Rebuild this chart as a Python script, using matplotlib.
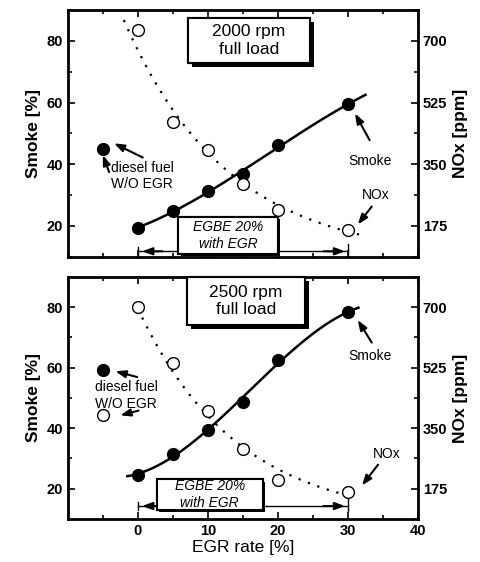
import numpy as np
import matplotlib
matplotlib.use('Agg')
import matplotlib.pyplot as plt
import matplotlib.patheffects as pe
from matplotlib.patches import Rectangle
from matplotlib.ticker import MultipleLocator

plt.rcParams['font.family'] = ['Liberation Sans', 'DejaVu Sans']
plt.rcParams['font.weight'] = 'bold'

# EGR rate [%]
egr = [0, 5, 10, 15, 20, 30]
diesel_x = -5

# 2000 rpm full load
smoke_2000 = [19.3, 25.0, 31.2, 36.9, 46.2, 59.4]
nox_2000 = [730, 470, 390, 295, 220, 165]
diesel_smoke_2000 = 44.9

# 2500 rpm full load
smoke_2500 = [24.5, 31.5, 39.4, 48.8, 62.5, 78.3]
nox_2500 = [701, 540, 400, 290, 200, 166]
diesel_smoke_2500 = 59.1
diesel_nox_2500 = 388

NOX_PER_SMOKE = 8.75  # right axis scale: 175 ppm <-> 20 %
NOX_FLOOR = 80        # asymptote used for the exponential NOx trend
LBL = 10


def shadow(off=3):
    return [pe.withSimplePatchShadow(offset=(off, -off), shadow_rgbFace='black', alpha=1.0),
            pe.Normal()]


def setup_axes(ax, show_xlabels):
    ax.set_xlim(-10, 40)
    ax.set_ylim(10, 90)
    ax.xaxis.set_minor_locator(MultipleLocator(5))
    ax.set_xticks([0, 10, 20, 30, 40])
    ax.set_yticks([20, 40, 60, 80])
    ax.yaxis.set_minor_locator(MultipleLocator(10))
    ax.tick_params(which='both', direction='in', top=True, labelsize=10.5, width=1.2)
    ax.tick_params(which='major', length=5)
    ax.tick_params(which='minor', length=3)
    ax.tick_params(axis='x', labelbottom=show_xlabels)
    for s in ax.spines.values():
        s.set_linewidth(2)
    ax.set_ylabel('Smoke [%]', fontsize=12.5, fontweight='bold')

    ax2 = ax.twinx()
    ax2.set_ylim(10 * NOX_PER_SMOKE, 90 * NOX_PER_SMOKE)
    ax2.set_yticks([175, 350, 525, 700])
    ax2.yaxis.set_minor_locator(MultipleLocator(87.5))
    ax2.tick_params(which='both', direction='in', labelsize=10.5, width=1.2)
    ax2.tick_params(which='major', length=5)
    ax2.tick_params(which='minor', length=3)
    ax2.set_ylabel('NOx [ppm]', fontsize=12.5, fontweight='bold')
    return ax2


def draw_panel(ax, smoke, nox, smoke_rng, nox_rng):
    x = np.array(egr, dtype=float)
    # trend lines fitted to the measured points
    cs = np.polyfit(x, smoke, 3)
    xs = np.linspace(smoke_rng[0], smoke_rng[1], 200)
    ax.plot(xs, np.polyval(cs, xs), color='black', lw=1.8, zorder=2)
    cn = np.polyfit(x, np.log(np.array(nox) - NOX_FLOOR), 1)
    xn = np.linspace(nox_rng[0], nox_rng[1], 200)
    yn = (np.exp(np.polyval(cn, xn)) + NOX_FLOOR) / NOX_PER_SMOKE
    ax.plot(xn, yn, color='black', lw=1.6, ls=(0, (1, 3.5)), zorder=2)

    ax.plot(egr, smoke, 'o', color='black', ms=8.5, zorder=4)
    ax.plot(egr, np.array(nox) / NOX_PER_SMOKE, 'o', mfc='white', mec='black',
            mew=1.0, ms=8.5, zorder=4)


def arrow(ax, xy, xytext):
    ax.annotate('', xy=xy, xytext=xytext,
                arrowprops=dict(arrowstyle='-|>,head_length=0.6,head_width=0.22',
                                color='black', lw=1.5, shrinkA=0, shrinkB=0))


def egr_range(ax, y, box):
    # |<---- EGBE 20% with EGR ---->|
    ax.plot([0, 30], [y, y], color='black', lw=1.0, zorder=3)
    ax.plot([0, 0], [y - 1.3, y + 1.3], color='black', lw=1.0, zorder=3)
    ax.plot([30, 30], [y - 1.8, y + 2.2], color='black', lw=1.0, zorder=3)
    arrow(ax, (0.6, y), (3.5, y))
    arrow(ax, (29.6, y), (26.5, y))
    x0, y0, x1, y1 = box
    r = Rectangle((x0, y0), x1 - x0, y1 - y0, facecolor='white', edgecolor='black',
                  lw=1.5, zorder=5)
    r.set_path_effects(shadow(1.5))
    ax.add_patch(r)
    ax.text((x0 + x1) / 2, (y0 + y1) / 2, 'EGBE 20%\nwith EGR', ha='center', va='center',
            fontsize=10, fontstyle='italic', fontweight='normal', linespacing=1.25, zorder=6)


def title_box(ax, box, text):
    x0, y0, x1, y1 = box
    r = Rectangle((x0, y0), x1 - x0, y1 - y0, facecolor='white', edgecolor='black',
                  lw=1.5, zorder=5, clip_on=False)
    r.set_path_effects(shadow(3))
    ax.add_patch(r)
    ax.text((x0 + x1) / 2, (y0 + y1) / 2, text, ha='center', va='center',
            fontsize=12.5, fontweight='normal', linespacing=1.2, zorder=6)


fig = plt.figure(figsize=(4.81, 5.62), dpi=100)
ax1 = fig.add_axes([0.141, 0.543, 0.728, 0.439])
ax3 = fig.add_axes([0.141, 0.077, 0.728, 0.430])

# ---- 2000 rpm ----
setup_axes(ax1, False)
draw_panel(ax1, smoke_2000, nox_2000, (0, 32.5), (-2, 32.5))
ax1.plot([diesel_x], [diesel_smoke_2000], 'o', color='black', ms=8.5, zorder=4)
title_box(ax1, (7.1, 72.8, 24.6, 87.5), '2000 rpm\nfull load')
ax1.text(-3.9, 36.3, 'diesel fuel\nW/O EGR', fontsize=LBL, fontweight='normal',
         ha='left', va='center', linespacing=1.2)
arrow(ax1, (-3.4, 46.8), (0.7, 42.2))
arrow(ax1, (-5.0, 43.0), (-4.1, 37.5))
ax1.text(33.2, 41, 'Smoke', fontsize=LBL, fontweight='normal', ha='center', va='center')
arrow(ax1, (31.0, 56.5), (33.1, 47.8))
ax1.text(33.9, 30, 'NOx', fontsize=LBL, fontweight='normal', ha='center', va='center')
arrow(ax1, (31.4, 20.5), (33.4, 26.3))
egr_range(ax1, 11.8, (5.8, 10.8, 20.0, 23.0))

# ---- 2500 rpm ----
setup_axes(ax3, True)
ax3.set_xlabel('EGR rate [%]', fontsize=12.5, fontweight='normal', labelpad=2)
draw_panel(ax3, smoke_2500, nox_2500, (-1.5, 31.5), (0, 29.5))
ax3.plot([diesel_x], [diesel_smoke_2500], 'o', color='black', ms=8.5, zorder=4)
ax3.plot([diesel_x], [diesel_nox_2500 / NOX_PER_SMOKE], 'o', mfc='white', mec='black',
         mew=1.0, ms=8.5, zorder=4)
title_box(ax3, (7.0, 74.1, 23.8, 90.0), '2500 rpm\nfull load')
ax3.text(-1.7, 50.8, 'diesel fuel\nW/O EGR', fontsize=LBL, fontweight='normal',
         ha='center', va='center', linespacing=1.2)
arrow(ax3, (-3.2, 58.8), (-0.1, 56.9))
arrow(ax3, (-2.5, 44.2), (0.1, 45.8))
ax3.text(33.1, 64, 'Smoke', fontsize=LBL, fontweight='normal', ha='center', va='center')
arrow(ax3, (31.4, 75.8), (33.4, 68.3))
ax3.text(35.5, 31.5, 'NOx', fontsize=LBL, fontweight='normal', ha='center', va='center')
arrow(ax3, (32.0, 21.0), (34.3, 27.9))
egr_range(ax3, 14.2, (2.7, 12.9, 17.8, 23.0))

fig.savefig('out.png', dpi=100)
